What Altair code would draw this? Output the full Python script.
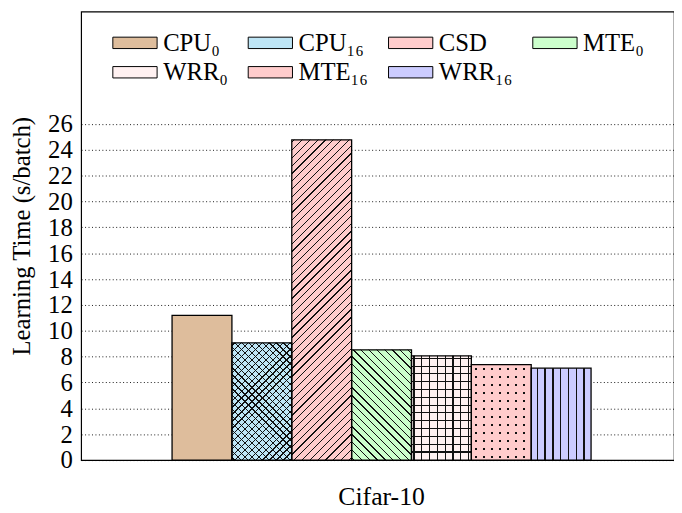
import altair as alt
import pandas as pd

# ---------------- data ----------------
categories = ["Cifar-10"]
series = ["CPU₀", "CPU₁₆", "CSD", "MTE₀", "WRR₀", "MTE₁₆", "WRR₁₆"]
values = [11.2, 9.07, 24.77, 8.53, 8.07, 7.39, 7.11]
colors = ["#DEBD9C", "#BEE5F5", "#FFCCCC", "#CCFFCC", "#FFF1F1", "#FFCCCC", "#CCCCFF"]
y_ticks = list(range(0, 27, 2))
y_max = 34.7

# ---------------- layout / style ----------------
W, H = 600, 454
FONT = "Liberation Serif"
FS = 25
PAD_OUTER, ALIGN = 0.2075, 0.523
CLEAR = "rgba(0,0,0,0)"
INK = "#111111"

df = pd.DataFrame({"dataset": categories * len(series), "series": series, "value": values})

band = W / (1 + 2 * PAD_OUTER)
bar_w = band / len(series)
pxu = H / y_max


def stripe_stops(length, period, thick, ink, back, phase=0.0):
    stops = [alt.GradientStop(offset=0, color=back)]
    pos = phase
    while pos < length - 1.0:
        a = max(0.0, pos) / length
        b = min(length, pos + thick) / length
        stops += [
            alt.GradientStop(offset=a, color=back),
            alt.GradientStop(offset=a, color=ink),
            alt.GradientStop(offset=b, color=ink),
            alt.GradientStop(offset=b, color=back),
        ]
        pos += period
    stops.append(alt.GradientStop(offset=1, color=back))
    return stops


def pattern(kind, value, period=7.9, thick=1.3, ink=INK, back=CLEAR, phase=2.0):
    w, h = bar_w, value * pxu
    if kind in ("ne", "nw"):
        L = w + h
        dx = (w + h) * w / (w * w + h * h)
        dy = (w + h) * h / (w * w + h * h)
        if kind == "ne":
            x1, y1, x2, y2 = 0, 0, dx, dy
        else:
            x1, y1, x2, y2 = 0, 1, dx, 1 - dy
    elif kind == "v":
        L = w
        x1, y1, x2, y2 = 0, 0, 1, 0
    else:
        L = h
        x1, y1, x2, y2 = 0, 0, 0, 1
    return alt.LinearGradient(
        gradient="linear",
        x1=x1, y1=y1, x2=x2, y2=y2,
        stops=stripe_stops(L, period, thick, ink, back, phase),
    )


x_enc = alt.X(
    "dataset:N",
    scale=alt.Scale(paddingInner=0, paddingOuter=PAD_OUTER, align=ALIGN),
    axis=alt.Axis(
        title=None, labelAngle=0, labelFont=FONT, labelFontSize=26, labelColor="black",
        labelBaseline="alphabetic", labelPadding=45, ticks=False, tickSize=0,
        domain=False, grid=False,
    ),
)
xo_enc = alt.XOffset(
    "series:N", sort=series,
    scale=alt.Scale(domain=series, paddingInner=0, paddingOuter=0),
)
y_enc = alt.Y(
    "value:Q",
    scale=alt.Scale(domain=[0, y_max], nice=False, zero=True),
    axis=alt.Axis(
        values=y_ticks, title="Learning Time (s/batch)", titleFont=FONT,
        titleFontSize=FS, titleFontWeight="normal", titleColor="black",
        titleX=-60, titleY=H / 2, titleBaseline="middle", titleAngle=270,
        labelFont=FONT, labelFontSize=FS, labelColor="black", labelPadding=9,
        ticks=False, tickSize=0, domain=False,
        grid=True, gridColor="black", gridDash=[1, 2.5], gridWidth=1, gridOpacity=0.9,
    ),
)

base = alt.Chart(df).mark_bar(stroke=None).encode(
    x=x_enc, xOffset=xo_enc, y=y_enc,
    color=alt.Color(
        "series:N", sort=series,
        scale=alt.Scale(domain=series, range=colors),
        legend=alt.Legend(
            title=None, orient="none", legendX=42, legendY=19,
            direction="horizontal", columns=4,
            symbolType="M-2.8,-0.72L2.8,-0.72L2.8,0.72L-2.8,0.72Z", symbolSize=256,
            symbolStrokeColor="black", symbolStrokeWidth=1, symbolOpacity=1,
            labelFont=FONT, labelFontSize=FS, labelColor="black", labelOffset=16,
            columnPadding=18, rowPadding=4, padding=0, labelLimit=0,
        ),
    ),
)

# hatch overlays: (series index, pattern kind, kwargs)
overlay_specs = [
    (1, "ne", {"period": 7.0}),
    (1, "nw", {"period": 7.0}),
    (2, "ne", {}),
    (3, "nw", {}),
    (4, "v", {"thick": 1.1}),
    (4, "h", {"thick": 1.1}),
    (5, "v", {"thick": 2.6, "period": 8.1, "phase": 3.5}),
    (5, "h", {"thick": 2.6, "period": 8.1, "phase": 3.0, "ink": CLEAR, "back": colors[5]}),
    (6, "v", {"thick": 1.4, "phase": 5.5}),
]

layers = [base]
for idx, kind, kw in overlay_specs:
    s = series[idx]
    layers.append(
        alt.Chart(df)
        .transform_filter(alt.datum.series == s)
        .mark_bar(fill=pattern(kind, values[idx], **kw), strokeWidth=0)
        .encode(x=x_enc, xOffset=xo_enc, y=y_enc)
    )

outline = alt.Chart(df).mark_bar(fillOpacity=0, stroke="black", strokeWidth=1.3).encode(
    x=x_enc, xOffset=xo_enc, y=y_enc
)
layers.append(outline)

chart = (
    alt.layer(*layers)
    .properties(
        width=W, height=H, autosize="none",
        padding={"left": 74, "top": 0.5, "right": 0, "bottom": 50},
    )
    .configure(font=FONT)
    .configure_view(stroke="black", strokeWidth=1.2)
)

chart.save("out.html", embed_options={"renderer": "svg", "actions": False})
